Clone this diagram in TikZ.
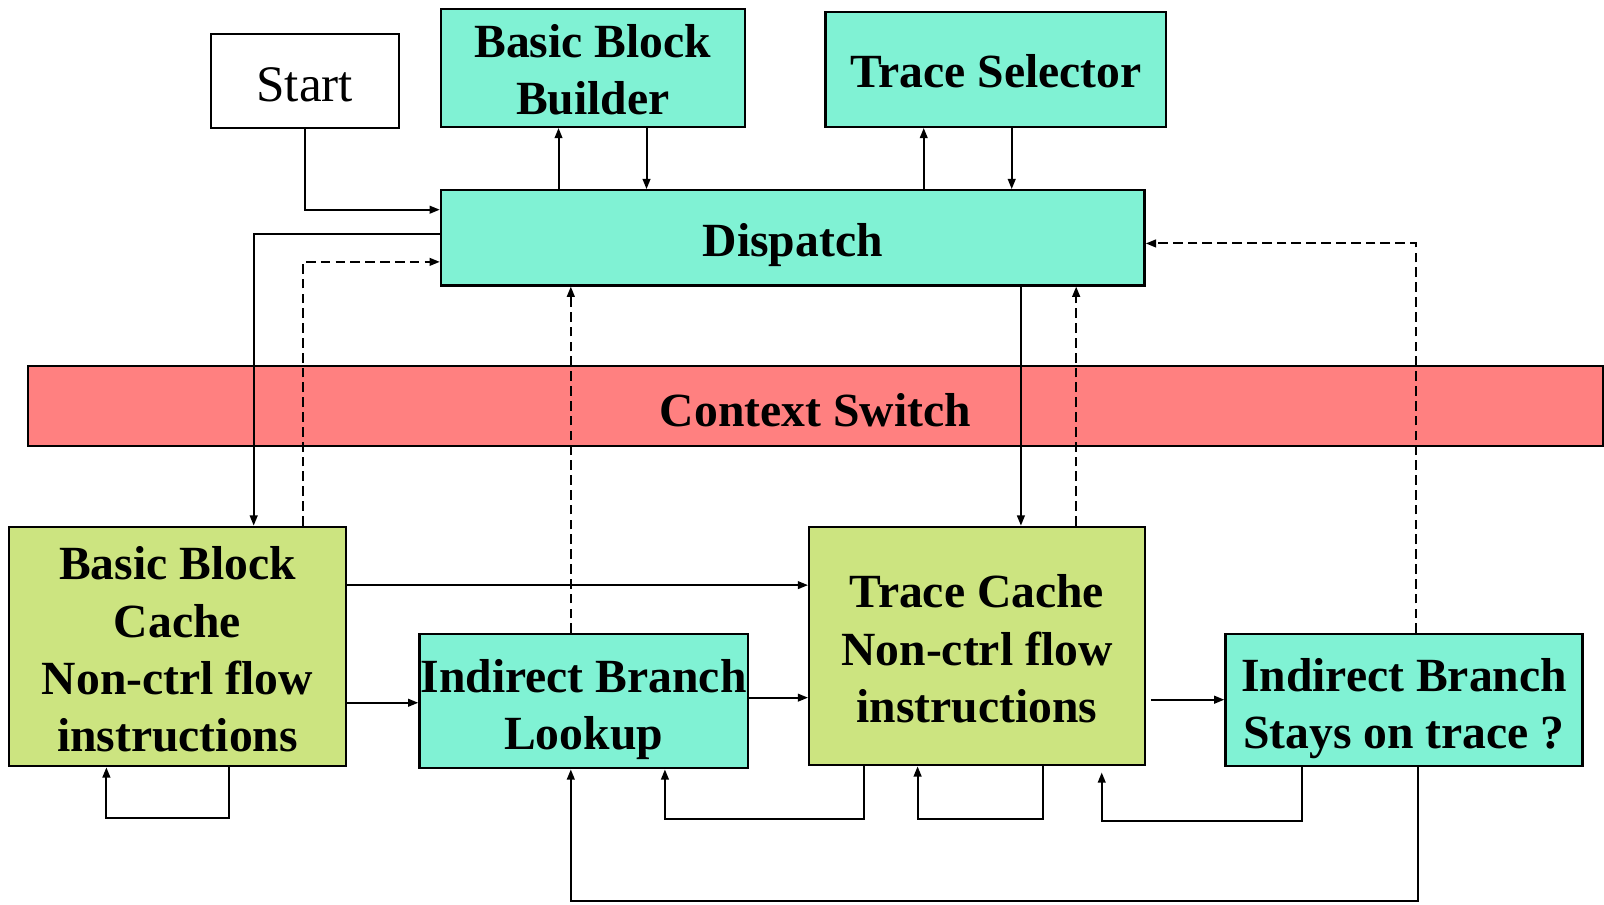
\documentclass[tikz,border=0pt]{standalone}
\usepackage{fontspec}
\setmainfont{Liberation Serif}
\usetikzlibrary{arrows.meta}
\definecolor{aqua}{RGB}{128,242,212}
\definecolor{lime}{RGB}{204,228,128}
\definecolor{pinkred}{RGB}{255,128,128}
\tikzset{
  box/.style={draw=black, line width=1.3pt, rectangle, inner sep=0pt},
  aquabox/.style={box, fill=aqua},
  limebox/.style={box, fill=lime},
  lab/.style={inner sep=0pt, align=center, font=\fontsize{26.5}{31.9}\selectfont\bfseries},
  tx/.style 2 args={label={[lab, yshift=-#1*0.02cm]center:{#2}}},
  arr/.style={line width=1.1pt, -{Triangle[length=0.2cm,width=0.15cm]}},
  darr/.style={arr, dash pattern=on 0.19cm off 0.1cm},
}
\begin{document}
\begin{tikzpicture}[x=0.02cm,y=-0.02cm]
\useasboundingbox (0,0) rectangle (1568,884);
% boxes
\node[box, minimum width=3.68cm, minimum height=1.84cm,
  label={[inner sep=0pt, font=\fontsize{28.5}{34}\selectfont, yshift=-0.08cm]center:Start}] (start) at (298,79) {};
\node[aquabox, minimum width=5.94cm, minimum height=2.30cm, tx={2}{Basic Block\\Builder}] (bbb) at (579.5,66.5) {};
\node[aquabox, minimum width=6.66cm, minimum height=2.24cm, tx={2}{Trace Selector}] (ts) at (973.5,68) {};
\node[aquabox, minimum width=13.76cm, minimum height=1.86cm, tx={7}{Dispatch}] (disp) at (775,232.5) {};
\node[box, fill=pinkred, minimum width=30.8cm, minimum height=1.56cm, tx={4}{Context Switch}] (cs) at (797,397) {};
\node[limebox, minimum width=6.58cm, minimum height=4.68cm, tx={3}{Basic Block\\Cache\\Non-ctrl flow\\instructions}] (bbc) at (173.5,632) {};
\node[aquabox, minimum width=6.42cm, minimum height=2.62cm, tx={8}{Indirect Branch\\Lookup}] (ibl) at (570.5,685.5) {};
\node[limebox, minimum width=6.56cm, minimum height=4.66cm, tx={3}{Trace Cache\\Non-ctrl flow\\instructions}] (tc) at (955,631.5) {};
\node[aquabox, minimum width=6.98cm, minimum height=2.58cm, tx={8}{Indirect Branch\\Stays on trace ?}] (ibs) at (1372.5,684.5) {};
% corner coordinates
\coordinate (l1a) at (224,800); \coordinate (l1b) at (104,800);
\coordinate (l2a) at (845,801); \coordinate (l2b) at (650,801);
\coordinate (l3a) at (1020,801); \coordinate (l3b) at (897,801);
\coordinate (l4a) at (1273,803); \coordinate (l4b) at (1077,803);
\coordinate (l5a) at (1386,881); \coordinate (l5b) at (558,881);
% connectors
\draw[arr] (start.south) |- (disp.west |- 0,205);
\draw[arr] (disp.west |- 0,229) -| (bbc.north -| 248,0);
\draw[darr] (bbc.north -| 296,0) |- (disp.west |- 0,256);
\draw[arr] (disp.north -| 546,0) -- (bbb.south -| 546,0);
\draw[arr] (bbb.south -| 632,0) -- (disp.north -| 632,0);
\draw[arr] (disp.north -| 903,0) -- (ts.south -| 903,0);
\draw[arr] (ts.south -| 989,0) -- (disp.north -| 989,0);
\draw[darr] (ibl.north -| 558,0) -- (disp.south -| 558,0);
\draw[arr] (disp.south -| 998,0) -- (tc.north -| 998,0);
\draw[darr] (tc.north -| 1052,0) -- (disp.south -| 1052,0);
\draw[darr] (ibs.north -| 1384,0) |- (disp.east |- 0,238);
\draw[arr] (bbc.east |- 0,572) -- (tc.west |- 0,572);
\draw[arr] (bbc.east |- 0,687) -- (ibl.west |- 0,687);
\draw[arr] (ibl.east |- 0,682) -- (tc.west |- 0,682);
\draw[arr, shorten <=0.1cm] (tc.east |- 0,684) -- (ibs.west |- 0,684);
\draw[arr] (bbc.south -| 224,0) -- (l1a) -- (l1b) -- (bbc.south -| 104,0);
\draw[arr] (tc.south -| 845,0) -- (l2a) -- (l2b) -- (ibl.south -| 650,0);
\draw[arr] (tc.south -| 1020,0) -- (l3a) -- (l3b) -- (tc.south -| 897,0);
\draw[arr, shorten >=0.12cm] (ibs.south -| 1273,0) -- (l4a) -- (l4b) -- (tc.south -| 1077,0);
\draw[arr] (ibs.south -| 1386,0) -- (l5a) -- (l5b) -- (ibl.south -| 558,0);
\end{tikzpicture}
\end{document}
